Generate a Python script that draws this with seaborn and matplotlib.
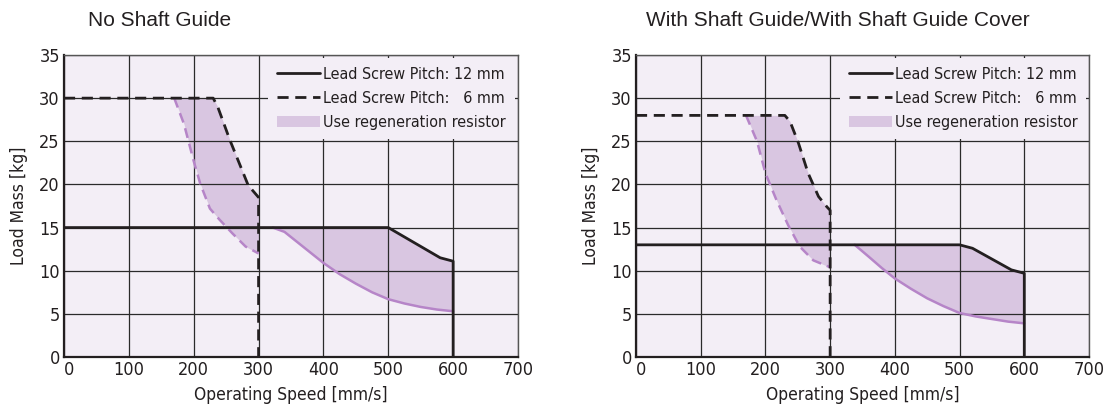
import numpy as np
import pandas as pd
import matplotlib
matplotlib.use("Agg")
import matplotlib.pyplot as plt
from matplotlib import font_manager
from matplotlib.lines import Line2D
from matplotlib.patches import Patch
import seaborn as sns

# ---------------- data ----------------
titles = ["No Shaft Guide", "With Shaft Guide/With Shaft Guide Cover"]
x_ticks = [0, 100, 200, 300, 400, 500, 600, 700]
y_ticks = [0, 5, 10, 15, 20, 25, 30, 35]

# Left: No Shaft Guide
L_p12_x = [0, 500, 580, 600, 600]
L_p12_y = [15, 15, 11.5, 11.1, 0]
L_p12_low_x = [322, 340, 360, 380, 400, 425, 450, 475, 500, 525, 550, 575, 600]
L_p12_low_y = [15, 14.5, 13.3, 12.1, 10.9, 9.6, 8.5, 7.5, 6.7, 6.2, 5.8, 5.5, 5.3]
L_p6_x = [0, 230, 237, 256, 284, 300, 300]
L_p6_y = [30, 30, 29, 25.1, 19.9, 18.5, 0]
L_p6_low_x = [170, 185, 200, 210, 225, 240, 260, 280, 300]
L_p6_low_y = [30, 27, 22.7, 20.1, 17.2, 15.9, 14.3, 12.8, 12.0]

# Right: With Shaft Guide / Cover
R_p12_x = [0, 500, 520, 580, 600, 600]
R_p12_y = [13, 13, 12.6, 10.1, 9.7, 0]
R_p12_low_x = [338, 360, 380, 400, 425, 450, 475, 500, 525, 550, 575, 600]
R_p12_low_y = [13, 11.6, 10.3, 9.1, 7.9, 6.8, 5.9, 5.1, 4.7, 4.4, 4.1, 3.9]
R_p6_x = [0, 230, 238, 251, 266, 282, 295, 300, 300]
R_p6_y = [28, 28, 27.3, 24.8, 21.3, 18.6, 17.4, 17.0, 0]
R_p6_low_x = [170, 187, 200, 217, 235, 253, 274, 300]
R_p6_low_y = [28, 25, 21.3, 18.2, 15.3, 12.8, 11.2, 10.4]

legend_labels = ["Lead Screw Pitch: 12 mm", "Lead Screw Pitch:   6 mm", "Use regeneration resistor"]

# ---------------- style ----------------
BG = "#f3eef6"
FILL = "#d9c6e1"
PURPLE = "#b685c8"
DARK = "#231f20"

sns.set_theme(style="white")
names = {f.name for f in font_manager.fontManager.ttflist}
if "Liberation Sans Narrow" in names:
    NARROW = dict(family="Liberation Sans Narrow")
else:
    NARROW = dict(family="DejaVu Sans", stretch="condensed")
plt.rcParams["font.family"] = ["Liberation Sans", "DejaVu Sans"]

fig = plt.figure(figsize=(11.07, 4.05), dpi=100)
fig.patch.set_facecolor("white")

axes_rect = [
    [64 / 1107, 48 / 405, 454 / 1107, 302 / 405],
    [636 / 1107, 48 / 405, 453 / 1107, 302 / 405],
]
title_pos = [(88 / 1107, 1 - 21 / 405), (646 / 1107, 1 - 21 / 405)]

datasets = [
    (L_p12_x, L_p12_y, L_p12_low_x, L_p12_low_y, L_p6_x, L_p6_y, L_p6_low_x, L_p6_low_y),
    (R_p12_x, R_p12_y, R_p12_low_x, R_p12_low_y, R_p6_x, R_p6_y, R_p6_low_x, R_p6_low_y),
]


def band(ax, lx, ly, ux, uy):
    # shade between a lower limit curve and the upper rated curve
    ux_a, uy_a = np.array(ux[:-1], float), np.array(uy[:-1], float)
    xs = np.unique(np.concatenate([np.array(lx, float),
                                   ux_a[(ux_a >= lx[0]) & (ux_a <= lx[-1])]]))
    lo = np.interp(xs, lx, ly)
    hi = np.interp(xs, ux_a, uy_a)
    ax.fill_between(xs, lo, hi, color=FILL, linewidth=0, zorder=1)


for i, ax_r in enumerate(axes_rect):
    ax = fig.add_axes(ax_r)
    ax.set_facecolor(BG)
    p12x, p12y, p12lx, p12ly, p6x, p6y, p6lx, p6ly = datasets[i]

    band(ax, p6lx, p6ly, p6x, p6y)
    band(ax, p12lx, p12ly, p12x, p12y)

    df = lambda x, y: pd.DataFrame({"x": x, "y": y})
    sns.lineplot(data=df(p6lx, p6ly), x="x", y="y", sort=False, estimator=None, ax=ax,
                 color=PURPLE, linewidth=1.8, linestyle=(0, (4, 2.4)), zorder=3)
    sns.lineplot(data=df(p12lx, p12ly), x="x", y="y", sort=False, estimator=None, ax=ax,
                 color=PURPLE, linewidth=1.8, zorder=3)
    sns.lineplot(data=df(p6x, p6y), x="x", y="y", sort=False, estimator=None, ax=ax,
                 color=DARK, linewidth=2.0, linestyle=(0, (4, 2.4)), zorder=4)
    sns.lineplot(data=df(p12x, p12y), x="x", y="y", sort=False, estimator=None, ax=ax,
                 color=DARK, linewidth=2.0, zorder=5)

    ax.set_xlim(0, 700)
    ax.set_ylim(0, 35)
    ax.set_xticks(x_ticks)
    ax.set_yticks(y_ticks)
    ax.set_xticklabels([str(v) for v in x_ticks], fontsize=13, color=DARK, **NARROW)
    ax.set_yticklabels([str(v) for v in y_ticks], fontsize=13, color=DARK, **NARROW)
    ax.tick_params(axis="x", length=0, pad=3)
    ax.tick_params(axis="y", length=0, pad=3)
    ax.get_xticklabels()[0].set_horizontalalignment("left")
    ax.set_axisbelow("line")
    ax.grid(True, color="#2a2a2a", linewidth=0.9)
    for s in ["top", "right"]:
        ax.spines[s].set_color("#555555")
        ax.spines[s].set_linewidth(1.0)
    for s in ["left", "bottom"]:
        ax.spines[s].set_color(DARK)
        ax.spines[s].set_linewidth(1.6)
    ax.set_xlabel("Operating Speed [mm/s]", fontsize=12.5, color=DARK, labelpad=5, **NARROW)
    ax.set_ylabel("Load Mass [kg]", fontsize=12.5, color=DARK, labelpad=8, **NARROW)

    handles = [
        Line2D([], [], color=DARK, linewidth=2.0),
        Line2D([], [], color=DARK, linewidth=2.0, linestyle=(0, (4, 2.4))),
        Patch(facecolor=FILL, edgecolor="none"),
    ]
    leg = ax.legend(handles, legend_labels, loc="upper left",
                    bbox_to_anchor=(0.45, 0.99), frameon=True,
                    facecolor=BG, edgecolor="none", framealpha=1,
                    prop=dict(size=11.5, **NARROW), handlelength=2.7,
                    handletextpad=0.2, labelspacing=0.58, borderpad=0.55,
                    borderaxespad=0, fancybox=False)
    leg.set_zorder(6)
    for t in leg.get_texts():
        t.set_color(DARK)

    fig.text(title_pos[i][0], title_pos[i][1], titles[i], fontsize=15,
             color=DARK, ha="left", va="center")

fig.savefig("out.png", dpi=100, facecolor="white")
